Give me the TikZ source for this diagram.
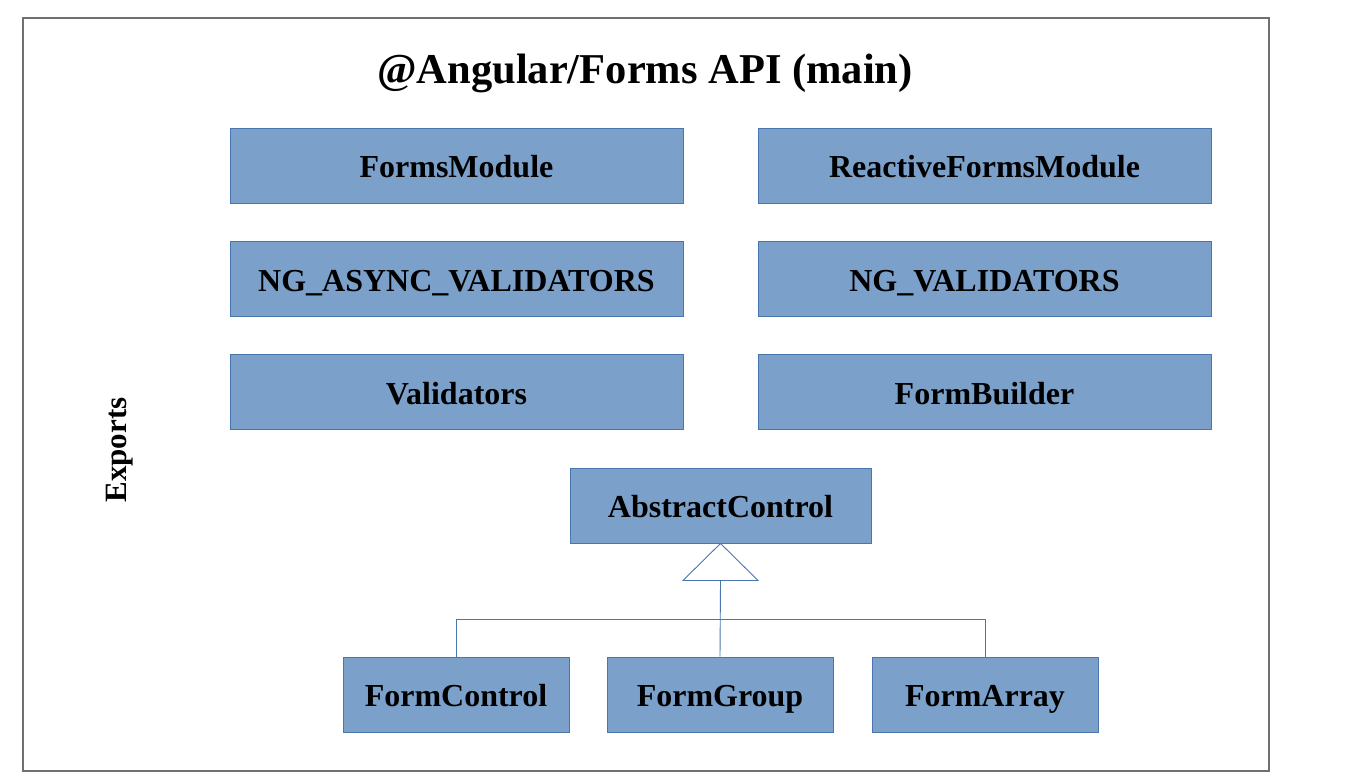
\documentclass[tikz,border=0pt]{standalone}
\usepackage{fontspec}
\setmainfont{Liberation Serif}
\usetikzlibrary{calc}
\definecolor{boxfill}{HTML}{7BA1CB}
\definecolor{boxline}{HTML}{4A76B0}
\definecolor{framegray}{HTML}{707070}
\begin{document}
\begin{tikzpicture}[x=1pt,y=-1pt,
  item/.style={draw=boxline, fill=boxfill, line width=0.9pt, minimum width=453pt, minimum height=75pt, inner sep=0pt, text height=24pt, text depth=0pt, font=\fontsize{32}{36}\selectfont\bfseries, anchor=center},
  small/.style={item, minimum width=226pt},
  mid/.style={item, minimum width=301pt},
  link/.style={draw=boxline, line width=0.9pt}]
\useasboundingbox (0,0) rectangle (1346,784);
\draw[framegray, line width=1.2pt] (23,18) rectangle (1269,771);
\node (title) at (645,73) {\fontsize{42.5}{46}\selectfont\bfseries @Angular/Forms API (main)};
\node[rotate=90] (exports) at (120,450) {\fontsize{31}{34}\selectfont\bfseries Exports};
\node[item] (fm) at (456.5,165.5) {FormsModule};
\node[item] (rfm) at (984.5,165.5) {ReactiveFormsModule};
\node[item] (ngav) at (456.5,279) {NG\_ASYNC\_VALIDATORS};
\node[item] (ngv) at (984.5,279) {NG\_VALIDATORS};
\node[item] (val) at (456.5,392) {Validators};
\node[item] (fb) at (984.5,392) {FormBuilder};
\node[mid] (ac) at (720.5,505.5) {AbstractControl};
\node[small] (fc) at (456,694.5) {FormControl};
\node[small] (fg) at (720,694.5) {FormGroup};
\node[small] (fa) at (985,694.5) {FormArray};
\coordinate (tb) at ($(ac.south)+(0,37)$);
\draw[link, fill=white] (ac.south) -- ($(tb)+(37.5,0)$) -- ($(tb)+(-37.5,0)$) -- cycle;
\draw[link] (fg.north) -- (tb);
\draw[link] (fc.north) -- ++(0,-37) -| (fa.north);
\end{tikzpicture}
\end{document}
